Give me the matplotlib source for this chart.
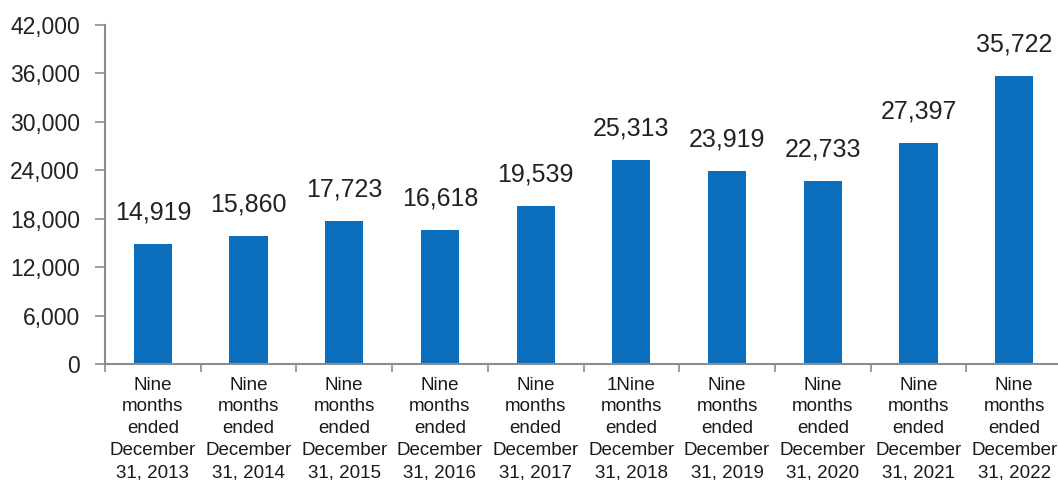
import matplotlib
matplotlib.use("Agg")
import matplotlib.pyplot as plt
import numpy as np

plt.rcParams['font.family'] = ['Liberation Sans', 'DejaVu Sans']

years = [2013, 2014, 2015, 2016, 2017, 2018, 2019, 2020, 2021, 2022]
values = [14919, 15860, 17723, 16618, 19539, 25313, 23919, 22733, 27397, 35722]
labels = ["Nine\nmonths\nended\nDecember\n31, %d" % y for y in years]
labels[5] = "1Nine\nmonths\nended\nDecember\n31, 2018"
yticks = [0, 6000, 12000, 18000, 24000, 30000, 36000, 42000]

fig = plt.figure(figsize=(10.58, 4.8), dpi=100)
# axes spans pixels x 105..1062, y 25..364 (from top)
ax = fig.add_axes([105 / 1058, (480 - 364) / 480, 957 / 1058, 339 / 480])

x = np.arange(len(values))
bars = ax.bar(x, values, width=0.4, color="#0a6ebd")

for xi, v in zip(x, values):
    ax.annotate("{:,}".format(v), (xi, v), xytext=(0, 14), textcoords="offset points",
                ha="center", va="bottom", fontsize=18, color="#222222")

ax.set_xlim(-0.5, len(values) - 0.5)
ax.set_ylim(0, 42000)
ax.set_yticks(yticks)
ax.set_yticklabels(["{:,}".format(t) for t in yticks], fontsize=16.5, color="#222222")

ax.set_xticks(x)
ax.set_xticklabels(labels, fontsize=13.5, linespacing=1.38, color="#1a1a1a")
ax.tick_params(axis="x", length=0, pad=9)
ax.set_xticks(np.arange(len(values) + 1) - 0.5, minor=True)
ax.tick_params(axis="x", which="minor", length=6, color="#8c8c8c", width=1.2)
ax.tick_params(axis="y", length=7, color="#8c8c8c", width=1.2, pad=11)

for s in ["top", "right"]:
    ax.spines[s].set_visible(False)
for s in ["left", "bottom"]:
    ax.spines[s].set_color("#8c8c8c")
    ax.spines[s].set_linewidth(1.5)

fig.savefig("out.png", dpi=100)
